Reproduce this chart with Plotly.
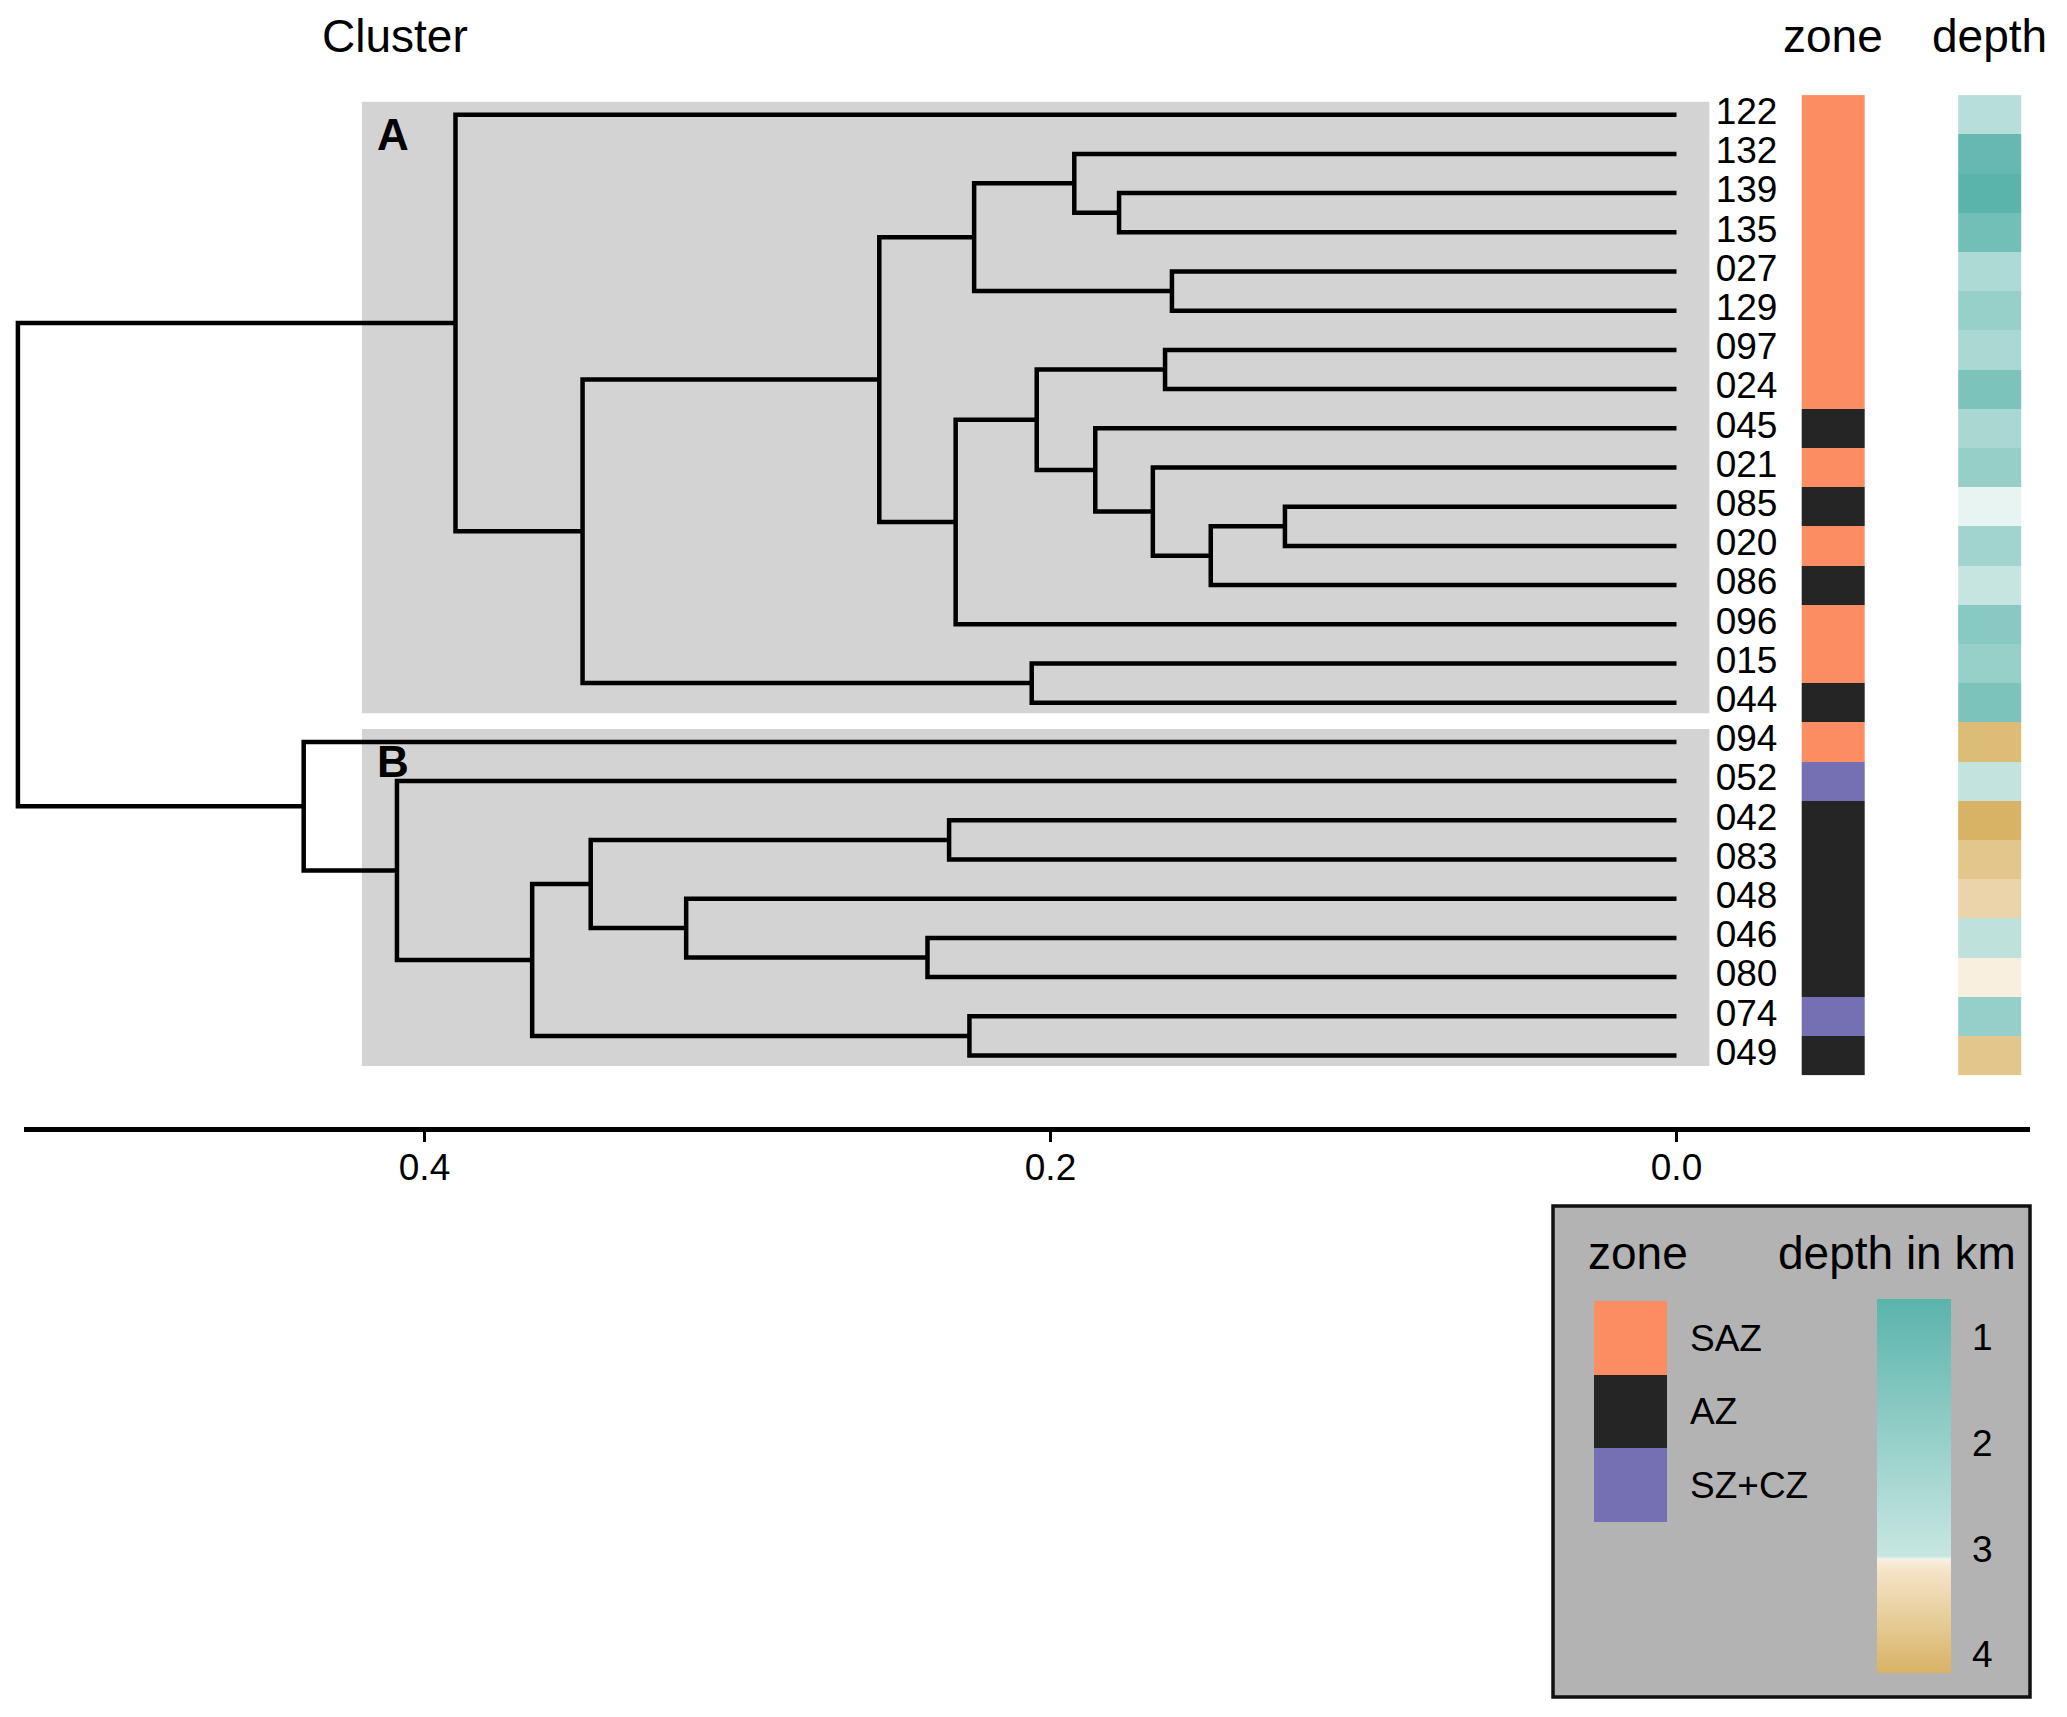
import plotly.graph_objects as go

# ---------------- data ----------------
leaves = ['122', '132', '139', '135', '027', '129', '097', '024', '045', '021',
          '085', '020', '086', '096', '015', '044', '094', '052', '042', '083',
          '048', '046', '080', '074', '049']
zone = ['SAZ', 'SAZ', 'SAZ', 'SAZ', 'SAZ', 'SAZ', 'SAZ', 'SAZ', 'AZ', 'SAZ',
        'AZ', 'SAZ', 'AZ', 'SAZ', 'SAZ', 'AZ', 'SAZ', 'SZ+CZ', 'AZ', 'AZ',
        'AZ', 'AZ', 'AZ', 'SZ+CZ', 'AZ']
depth_km = [2.69, 0.90, 0.638, 1.17, 2.47, 1.99, 2.41, 1.39, 2.38, 1.94,
            3.097, 2.21, 3.03, 1.68, 1.99, 1.39, 4.00, 2.94, 4.176, 3.79,
            3.51, 2.85, 3.11, 1.96, 3.80]

# hierarchical merges (like hclust): left, right, height ; 'mN' = result of merge N
merge_left = ['085', 'm0', '021', '045', '097', 'm4', 'm5', '139', '132', '027',
              'm8', 'm10', '015', 'm11', '122', '046', '048', '042', 'm17', '074',
              'm18', '052', '094', 'm14']
merge_right = ['020', '086', 'm1', 'm2', '024', 'm3', '096', '135', 'm7', '129',
               'm9', 'm6', '044', 'm12', 'm13', '080', 'm15', '083', 'm16', '049',
               'm19', 'm20', 'm21', 'm22']
merge_height = [0.1251, 0.1488, 0.1673, 0.1857, 0.1634, 0.2044, 0.2303, 0.1781, 0.1924, 0.1612,
                0.2244, 0.2547, 0.2060, 0.3495, 0.3901, 0.2393, 0.3164, 0.2324, 0.3469, 0.2259,
                0.3656, 0.4088, 0.4386, 0.5299]

cluster_names = ['A', 'B']
cluster_first = ['122', '094']
cluster_last = ['044', '049']

zone_levels = ['SAZ', 'AZ', 'SZ+CZ']
zone_colors = ['#FC8D62', '#252525', '#7570B3']
depth_ticks = [1, 2, 3, 4]
axis_ticks = [0.4, 0.2, 0.0]
axis_ticktext = ['0.4', '0.2', '0.0']

# ---------------- style constants ----------------
W, H = 2067, 1717
FONT = 'Liberation Sans, Arial, sans-serif'
ZONE_X, DEPTH_X, TILE_W = -0.05, -0.10, 0.02
LABEL_X = -0.0125
BOX_X0, BOX_X1 = 0.42, -0.0105
ZERO_PX, PPU = 1676.5, 3130.0          # pixel of height 0 and pixels per unit
AX_L_PX, AX_R_PX = 24, 2030
Y_TOP_PX, Y_AXIS_PX = 80, 1127
ROW0_PX, ROW_PX = 114.7, 39.2


def py(px):
    return 1 - px / H


def px_x(px):
    return px / W


XR = [(ZERO_PX - AX_L_PX) / PPU, (ZERO_PX - AX_R_PX) / PPU]
XR_FULL = [ZERO_PX / PPU, (ZERO_PX - W) / PPU]
y_range = [(Y_AXIS_PX - ROW0_PX) / ROW_PX + 1, (Y_TOP_PX - ROW0_PX) / ROW_PX + 1]
row = {lab: i + 1 for i, lab in enumerate(leaves)}

# ---------------- dendrogram coordinates ----------------
pos = {lab: (row[lab], 0.0) for lab in leaves}
dx, dy = [], []
for i, (l, r, h) in enumerate(zip(merge_left, merge_right, merge_height)):
    yl, hl = pos[l]
    yr, hr = pos[r]
    dx += [hl, h, h, hr, None]
    dy += [yl, yl, yr, yr, None]
    pos['m%d' % i] = ((yl + yr) / 2, h)

fig = go.Figure()

shapes = []
annotations = []

# legend box (drawn first, below everything)
shapes.append(dict(type='rect', xref='paper', yref='paper', x0=px_x(1553), x1=px_x(2030),
                   y0=py(1697), y1=py(1206), fillcolor='#B3B3B3',
                   line=dict(color='#111111', width=3.5), layer='below'))

# cluster boxes
for name, f, l in zip(cluster_names, cluster_first, cluster_last):
    shapes.append(dict(type='rect', xref='x', yref='y', x0=BOX_X0, x1=BOX_X1,
                       y0=row[f] - 0.33, y1=row[l] + 0.27, fillcolor='#D3D3D3',
                       line=dict(width=0), layer='below'))
    annotations.append(dict(xref='x', yref='y', x=0.41, y=row[f] + 0.5, text='<b>%s</b>' % name,
                            xanchor='center', yanchor='middle', showarrow=False,
                            font=dict(family=FONT, size=44, color='black')))

# dendrogram (on a full-width twin axis with the same scale so the root is not clipped)
fig.add_trace(go.Scatter(x=dx, y=dy, mode='lines', xaxis='x3', yaxis='y',
                         line=dict(color='black', width=4.5),
                         hoverinfo='skip', showlegend=False))

# leaf labels
fig.add_trace(go.Scatter(x=[LABEL_X] * len(leaves), y=[row[l] for l in leaves], mode='text',
                         text=leaves, textposition='middle right',
                         textfont=dict(family=FONT, size=37, color='black'),
                         hoverinfo='skip', showlegend=False))

# zone tiles
n = len(zone_levels)
zone_cs = []
for k, c in enumerate(zone_colors):
    zone_cs += [[k / n, c], [(k + 1) / n, c]]
zone_code = [zone_levels.index(z) for z in zone]
fig.add_trace(go.Heatmap(z=[[c] for c in zone_code], x0=ZONE_X, dx=TILE_W, y0=1, dy=1,
                         colorscale=zone_cs, zmin=-0.5, zmax=n - 0.5, showscale=False,
                         hoverinfo='skip'))

# depth tiles (negated so the colour bar runs shallow at top)
dmin, dmax = min(depth_km), max(depth_km)
depth_stops = [(dmax, '#D8B365'), (3.2, '#F4E4C8'), (3.1, '#FAF0E2'),
               (3.1, '#ECF6F4'), (3.07, '#C8E6E1'), (dmin, '#5AB4AC')]
depth_cs = [[(dmax - d) / (dmax - dmin), c] for d, c in depth_stops]
fig.add_trace(go.Heatmap(z=[[-d] for d in depth_km], x0=DEPTH_X, dx=TILE_W, y0=1, dy=1,
                         colorscale=depth_cs, zmin=-dmax, zmax=-dmin, hoverinfo='skip',
                         colorbar=dict(x=px_x(1877), xanchor='left', y=py(1673), yanchor='bottom',
                                       len=374, lenmode='pixels', thickness=74, xpad=0, ypad=0,
                                       outlinewidth=0, tickvals=[-t for t in depth_ticks],
                                       ticktext=[str(t) for t in depth_ticks],
                                       ticks='outside', ticklen=14, tickcolor='rgba(0,0,0,0)',
                                       tickfont=dict(family=FONT, size=37, color='black'))))

# legend keys for zone
fig.add_trace(go.Heatmap(z=[[k] for k in range(n)], x0=0, dx=1, y0=1, dy=1, xaxis='x2', yaxis='y2',
                         colorscale=zone_cs, zmin=-0.5, zmax=n - 0.5, showscale=False,
                         hoverinfo='skip'))

# headers
hdr = dict(showarrow=False, yanchor='middle', font=dict(family=FONT, size=46, color='black'))
annotations += [
    dict(xref='paper', yref='paper', x=px_x(395), y=py(36), xanchor='center', text='Cluster', **hdr),
    dict(xref='x', yref='paper', x=ZONE_X, y=py(36), xanchor='center', text='zone', **hdr),
    dict(xref='x', yref='paper', x=DEPTH_X, y=py(36), xanchor='center', text='depth', **hdr),
    dict(xref='paper', yref='paper', x=px_x(1586), y=py(1253), xanchor='left', text='zone', **hdr),
    dict(xref='paper', yref='paper', x=px_x(1776), y=py(1253), xanchor='left', text='depth in km', **hdr),
]

fig.update_layout(
    width=W, height=H, autosize=False,
    margin=dict(l=0, r=0, t=0, b=0, pad=0),
    paper_bgcolor='white', plot_bgcolor='rgba(0,0,0,0)',
    showlegend=False,
    shapes=shapes, annotations=annotations,
    xaxis=dict(domain=[px_x(AX_L_PX), px_x(AX_R_PX)], range=XR, showgrid=False, zeroline=False,
               showline=True, linecolor='black', linewidth=4.5, ticks='outside', ticklen=10,
               tickwidth=2.5, tickcolor='black', tickvals=axis_ticks, ticktext=axis_ticktext,
               ticklabelstandoff=-6,
               tickfont=dict(family=FONT, size=37, color='black'), anchor='y', fixedrange=True),
    xaxis3=dict(domain=[0, 1], range=XR_FULL, visible=False, anchor='y', fixedrange=True),
    yaxis=dict(domain=[py(Y_AXIS_PX), py(Y_TOP_PX)], range=y_range, visible=False,
               anchor='x', fixedrange=True),
    xaxis2=dict(domain=[px_x(1594), px_x(1667)], range=[-0.5, 0.5], visible=False,
                anchor='y2', fixedrange=True),
    yaxis2=dict(domain=[py(1522), py(1301)], range=[n + 0.5, 0.5], anchor='x2', side='right',
                tickvals=list(range(1, n + 1)), ticktext=zone_levels, ticks='', showline=False,
                showgrid=False, zeroline=False, ticklabelstandoff=22,
                tickfont=dict(family=FONT, size=37, color='black'), fixedrange=True),
)

fig.write_html('out.html', config={'displayModeBar': False},
               post_script="document.body.style.margin='0';document.body.style.overflow='hidden';")
